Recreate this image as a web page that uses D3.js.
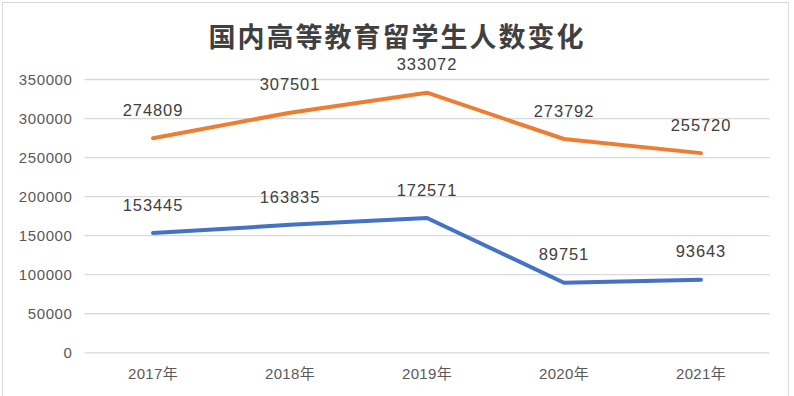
<!DOCTYPE html>
<html><head><meta charset="utf-8">
<script src="https://cdn.jsdelivr.net/npm/d3@7/dist/d3.min.js"></script>
<style>body{margin:0;background:#fff}svg{display:block}</style>
</head><body>
<svg id="c" width="794" height="396"></svg>
<script>
const title = "国内高等教育留学生人数变化";
const categories = ["2017年","2018年","2019年","2020年","2021年"];
const seriesOrange = [274809, 307501, 333072, 273792, 255720];
const seriesBlue = [153445, 163835, 172571, 89751, 93643];
const yTicks = [0, 50000, 100000, 150000, 200000, 250000, 300000, 350000];

const svg = d3.select("#c");
const W = 794, H = 396;
const m = {left: 84.5, right: 24.5, top: 79.5, bottom: 43.2};

svg.append("rect").attr("x",2.5).attr("y",2.5).attr("width",786).attr("height",400)
  .attr("fill","#fff").attr("stroke","#d9d9d9").attr("stroke-width",1);

const x = d3.scaleBand().domain(categories).range([m.left, W - m.right]);
const y = d3.scaleLinear().domain([0, 350000]).range([H - m.bottom, m.top]);

// gridlines
svg.append("g").selectAll("line").data(yTicks).join("line")
  .attr("x1", m.left).attr("x2", W - m.right)
  .attr("y1", d => y(d)).attr("y2", d => y(d))
  .attr("stroke", "#d9d9d9").attr("stroke-width", 1.3);

// y axis labels
const yAxis = d3.axisLeft(y).tickValues(yTicks).tickSize(0).tickPadding(12).tickFormat(d3.format("d"));
const ya = svg.append("g").attr("transform", `translate(${m.left},0)`).call(yAxis);
ya.select(".domain").remove();
ya.selectAll("text").attr("font-family","'Liberation Sans', Arial, sans-serif")
  .attr("font-size", 15).attr("fill", "#595959").attr("letter-spacing", "0.6px");

// x axis labels
const xAxis = d3.axisBottom(x).tickSize(0).tickPadding(16);
const xa = svg.append("g").attr("transform", `translate(0,${y(0)})`).call(xAxis);
xa.select(".domain").remove();
xa.selectAll("text").attr("font-family","'Liberation Sans','Noto Sans CJK SC', sans-serif")
  .attr("font-size", 15).attr("fill", "#595959").attr("letter-spacing", "0.3px");

const cx = d => x(d) + x.bandwidth() / 2;
const line = d3.line().x((d, i) => cx(categories[i])).y(d => y(d));

const series = [
  {values: seriesOrange, color: "#ed7d31"},
  {values: seriesBlue, color: "#4472c4"}
];

series.forEach(s => {
  svg.append("path").datum(s.values).attr("d", line)
    .attr("fill", "none").attr("stroke", s.color).attr("stroke-width", 4)
    .attr("stroke-linejoin", "round").attr("stroke-linecap", "round");
  svg.append("g").selectAll("text").data(s.values).join("text")
    .attr("x", (d, i) => cx(categories[i]))
    .attr("y", d => y(d) - 28)
    .attr("dy", "0.35em")
    .attr("text-anchor", "middle")
    .attr("font-family","'Liberation Sans', Arial, sans-serif")
    .attr("font-size", 16.5).attr("fill", "#404040").attr("letter-spacing", "0.9px")
    .text(d => d);
});

svg.append("text").attr("x", 397).attr("y", 38).attr("dy","0.35em")
  .attr("text-anchor","middle")
  .attr("font-family","'Noto Sans CJK SC', sans-serif")
  .attr("font-size", 27).attr("font-weight", 600).attr("fill", "#404040")
  .attr("letter-spacing", "2px")
  .text(title);
</script>
</body></html>
